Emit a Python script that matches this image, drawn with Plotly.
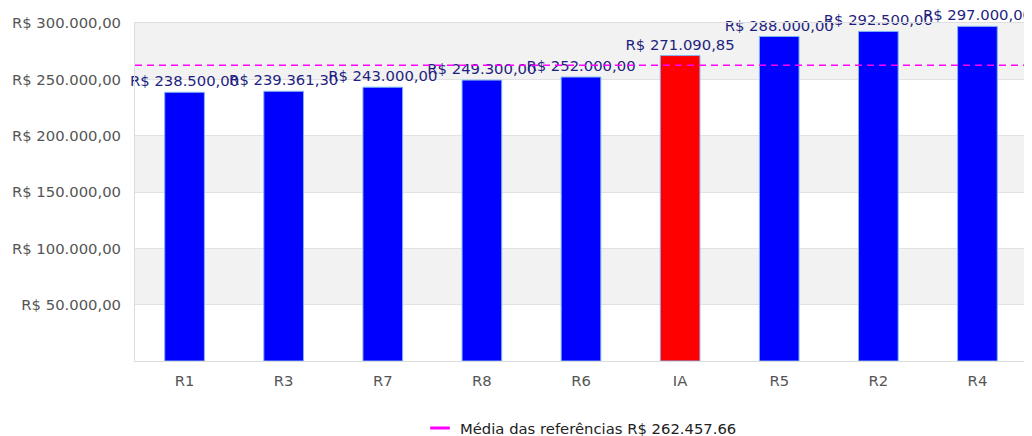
import plotly.graph_objects as go

categories = ["R1", "R3", "R7", "R8", "R6", "IA", "R5", "R2", "R4"]
values = [238500.00, 239361.30, 243000.00, 249300.00, 252000.00, 271090.85, 288000.00, 292500.00, 297000.00]
y_ticks = [50000, 100000, 150000, 200000, 250000, 300000]
bar_colors = ["#0000ff" if c != "IA" else "#ff0000" for c in categories]

ref_values = [v for c, v in zip(categories, values) if c != "IA"]
mean_ref = sum(ref_values) / len(ref_values)


def brl(v):
    s = f"{v:,.2f}"
    s = s.replace(",", "X").replace(".", ",").replace("X", ".")
    return "R$ " + s


legend_name = "Média das referências R$ " + f"{mean_ref:,.2f}".replace(",", ".")

FONT = "DejaVu Sans"
FS = 14.8

fig = go.Figure()
fig.add_trace(go.Bar(
    x=categories, y=values,
    marker=dict(color=bar_colors, line=dict(color="#7db4f0", width=1)),
    width=0.4,
    text=[brl(v) for v in values],
    textposition="outside",
    constraintext="none",
    cliponaxis=False,
    textfont=dict(family=FONT, size=FS, color="#1f1f80"),
    showlegend=False,
    hoverinfo="skip",
))
fig.add_trace(go.Scatter(
    x=[None], y=[None], mode="markers",
    marker=dict(symbol="line-ew-open", size=14, color="#ff00ff", line=dict(color="#ff00ff", width=3)),
    name=legend_name,
))

fig.add_shape(type="line", xref="paper", yref="y", x0=0, x1=1, y0=mean_ref, y1=mean_ref,
              line=dict(color="#ff00ff", width=1.5, dash="7px,5px"), layer="above")

# alternating bands
all_ticks = [0] + y_ticks
for i in range(len(all_ticks) - 1):
    if i % 2 == 1:
        fig.add_shape(type="rect", xref="paper", yref="y", x0=0, x1=1,
                      y0=all_ticks[i], y1=all_ticks[i + 1],
                      fillcolor="#f2f2f2", line=dict(width=0), layer="below")

# page body has an 8px margin, so the figure is shrunk/offset accordingly
fig.update_layout(
    width=1024, height=428,
    margin=dict(l=127, r=5, t=15, b=75, autoexpand=False),
    plot_bgcolor="white", paper_bgcolor="white",
    font=dict(family=FONT, size=FS, color="#555555"),
    bargap=0.6,
    legend=dict(orientation="h", x=0.5, xanchor="center", y=-0.248, yanchor="bottom",
                font=dict(family=FONT, size=FS, color="#222222")),
    xaxis=dict(showline=True, mirror=True, linecolor="#dddddd", linewidth=1, automargin=False,
               ticks="", ticklabelstandoff=6,
               tickfont=dict(family=FONT, size=FS, color="#555555")),
    yaxis=dict(range=[0, 300000], tickvals=y_ticks, ticktext=[brl(t) for t in y_ticks],
               showgrid=True, gridcolor="#e2e2e2", gridwidth=1, zeroline=False, automargin=False,
               showline=True, mirror=True, linecolor="#dddddd", linewidth=1,
               ticks="", ticklen=0, ticklabelstandoff=10,
               tickfont=dict(family=FONT, size=FS, color="#555555")),
)

fig.write_html("out.html")
